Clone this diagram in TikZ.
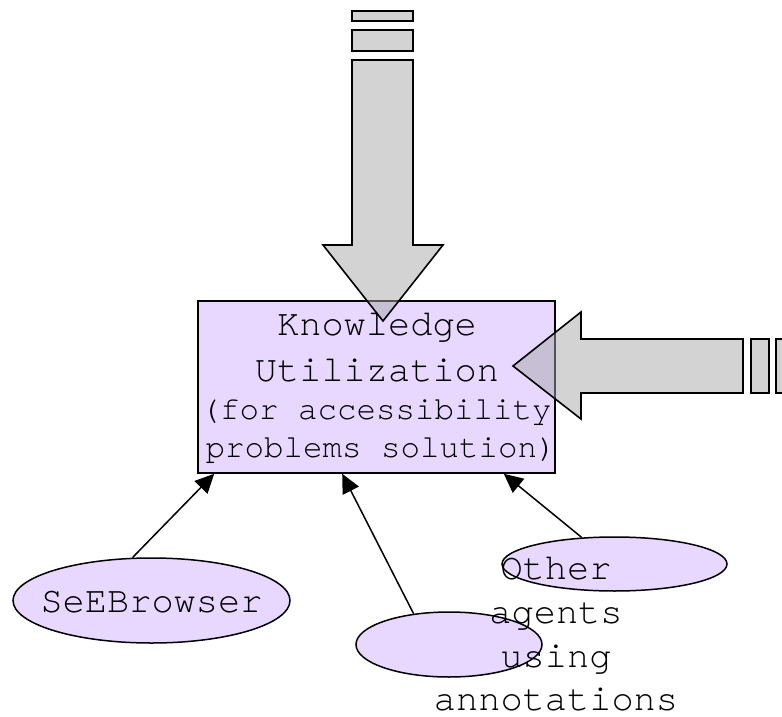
\documentclass[tikz,border=0pt]{standalone}
\usepackage{fontspec}
\newfontfamily\cour{TeX Gyre Cursor}
\usetikzlibrary{arrows.meta}
\definecolor{lav}{RGB}{232,215,255}
\definecolor{blockgray}{RGB}{168,168,168}
\tikzset{
  bigtxt/.style={font=\cour\fontsize{37}{44}\selectfont, inner sep=0pt, anchor=base},
  smalltxt/.style={font=\cour\fontsize{32.5}{38}\selectfont, inner sep=0pt, anchor=base},
  agent/.style={ellipse, draw, fill=lav, line width=1.5pt, inner sep=0pt},
  link/.style={line width=1.5pt, -{Triangle[length=19pt,width=18pt]}},
  blockarrow/.style={draw, line width=1.6pt, fill=blockgray, fill opacity=0.5, line join=miter}
}
\usetikzlibrary{shapes.geometric}
\begin{document}
\begin{tikzpicture}[x=1pt, y=-1pt]
  \useasboundingbox (0,0) rectangle (782,717);
  \clip (0,0) rectangle (782,717);

  % central box
  \node[draw, fill=lav, line width=1.6pt, minimum width=357pt, minimum height=172pt, inner sep=0pt]
    (kb) at (376.5,387) {};
  \node[bigtxt] (kbl1) at (377,335) {Knowledge};
  \node[bigtxt] (kbl2) at (377,381) {Utilization};
  \node[smalltxt] (kbl3) at (376,419) {(for accessibility};
  \node[smalltxt] (kbl4) at (381,457) {problems solution)};

  % agents
  \node[agent, minimum width=277pt, minimum height=85pt] (seb) at (151.5,600.5) {};
  \node[bigtxt] (sebtxt) at (151.5,612) {SeEBrowser};
  \node[agent, minimum width=186pt, minimum height=65pt] (ann) at (449,644.5) {};
  \node[agent, minimum width=225pt, minimum height=54pt] (oth) at (614.5,564) {};
  \node[bigtxt] (oa1) at (556,579) {Other};
  \node[bigtxt] (oa2) at (556,623) {agents};
  \node[bigtxt] (oa3) at (556,667) {using};
  \node[bigtxt] (oa4) at (556,710) {annotations};

  % links into the box
  \draw[link] (seb.114) -- ([xshift=17pt]kb.south west);
  \draw[link] (ann.139) -- ([xshift=145pt]kb.south west);
  \draw[link] (oth.141) -- ([xshift=-52pt]kb.south east);

  % incoming block arrow from above
  \draw[blockarrow] (352,11) rectangle (413,21);
  \draw[blockarrow] (352,30) rectangle (413,51);
  \draw[blockarrow] (352,60) -- (413,60) -- (413,245) -- (443,245) -- (383,321)
    -- (323,245) -- (352,245) -- cycle;

  % incoming block arrow from the right
  \draw[blockarrow] (743,339) -- (581,339) -- (581,312) -- (513,366) -- (581,419)
    -- (581,393) -- (743,393) -- cycle;
  \draw[blockarrow] (751,339) rectangle (769,393);
  \draw[blockarrow] (776,339) rectangle (800,393);
\end{tikzpicture}
\end{document}
